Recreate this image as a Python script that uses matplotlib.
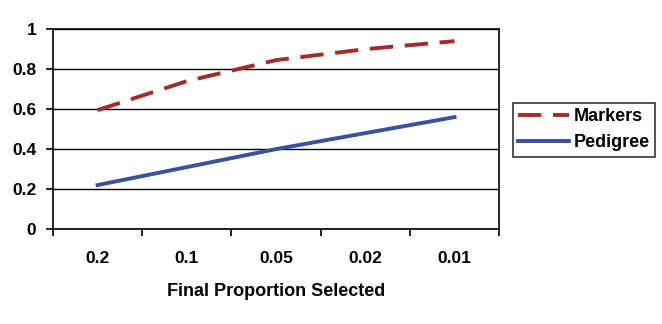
import matplotlib.pyplot as plt
import numpy as np

plt.rcParams['font.family'] = ['Liberation Sans', 'DejaVu Sans']

# Proportion of candidates kept at the final stage
proportions = ["0.2", "0.1", "0.05", "0.02", "0.01"]
markers = [0.595, 0.74, 0.845, 0.90, 0.94]
pedigree = [0.22, 0.31, 0.40, 0.48, 0.56]

fig = plt.figure(figsize=(6.62, 3.24), dpi=100)
ax = fig.add_axes([0.080, 0.293, 0.674, 0.617])

x = np.arange(len(proportions))
ax.plot(x, markers, color="#a52a2a", lw=2.8, dashes=(6, 3), label="Markers")
ax.plot(x, pedigree, color="#3a50a0", lw=2.8, label="Pedigree")

ax.set_xlim(-0.5, len(proportions) - 0.5)
ax.set_ylim(0, 1)
ax.set_yticks(np.arange(0, 1.01, 0.2))
ax.set_yticklabels(["0", "0.2", "0.4", "0.6", "0.8", "1"])
ax.yaxis.grid(True, color="black", lw=1.0)
ax.set_axisbelow(True)

# tick marks sit between categories, labels at category centres
ax.set_xticks(np.arange(-0.5, len(proportions), 1.0))
ax.set_xticklabels([])
ax.set_xticks(x, minor=True)
ax.set_xticklabels(proportions, minor=True)
ax.tick_params(axis="x", which="major", length=5, width=1.2, direction="out")
ax.tick_params(axis="x", which="minor", length=0, pad=16, labelsize=12.5)
ax.tick_params(axis="y", length=5, width=1.2, direction="out", pad=7, labelsize=12.5)
for lab in ax.get_xticklabels(minor=True) + ax.get_yticklabels():
    lab.set_fontweight("bold")

for s in ax.spines.values():
    s.set_linewidth(1.2)
    s.set_color("black")

ax.set_xlabel("Final Proportion Selected", fontsize=13, fontweight="bold", labelpad=12)

leg = ax.legend(loc="center left", bbox_to_anchor=(1.031, 0.4975), frameon=True,
                fancybox=False, edgecolor="black", handlelength=2.8,
                handletextpad=0.25, borderpad=0.3, borderaxespad=0,
                labelspacing=0.5, prop={"weight": "bold", "size": 13})
leg.get_frame().set_linewidth(1.2)

fig.savefig("out.png", dpi=100)
